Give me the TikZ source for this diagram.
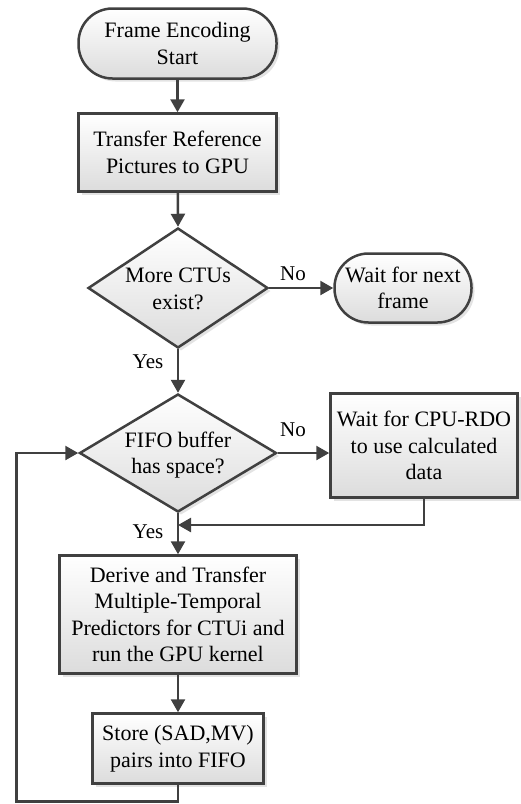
\documentclass[tikz,border=0pt]{standalone}
\usepackage{fontspec}
\setmainfont{Liberation Serif}
\usetikzlibrary{arrows.meta,shapes.geometric,shadows}
\definecolor{lc}{HTML}{404040}
\definecolor{boxg}{HTML}{DCDCDC}
\begin{document}
\begin{tikzpicture}[x=1pt,y=-1pt,
  txt/.style={font=\fontsize{22}{26.5}\selectfont, align=center, inner sep=0pt, text=black},
  boxbase/.style={draw=lc, line width=2.5pt, top color=white, bottom color=boxg,
     drop shadow={opacity=0.22, shadow xshift=3pt, shadow yshift=-3pt},
     txt},
  proc/.style={boxbase, rectangle},
  term/.style={boxbase, rectangle, rounded corners=34pt},
  dec/.style={boxbase, diamond, shape aspect=1.5},
  line/.style={draw=lc, line width=2.5pt},
  arr/.style={line, -{Triangle[length=13pt,width=14pt]}},
  lab/.style={font=\fontsize{21}{25}\selectfont, inner sep=0pt}]
\useasboundingbox (0,0) rectangle (521,804);

\node[term, minimum width=198pt, minimum height=70pt] (start) at (177.5,43.5) {Frame Encoding\\Start};
\node[proc, minimum width=198pt, minimum height=78pt] (xfer) at (177.5,152.5) {Transfer Reference\\Pictures to GPU};
\node[dec, minimum width=180pt, minimum height=120pt] (d1) at (178,288) {};
\node[txt] (d1t) at (178,289) {More CTUs\\exist?};
\node[term, minimum width=137pt, minimum height=69pt] (wait) at (403,288) {Wait for next\\frame};
\node[dec, minimum width=197pt, minimum height=118pt] (d2) at (178,453) {};
\node[txt] (d2t) at (178,455) {FIFO buffer\\has space?};
\node[proc, minimum width=187pt, minimum height=104pt] (cpu) at (424,445.5) {Wait for CPU-RDO\\to use calculated\\data};
\node[proc, minimum width=237pt, minimum height=118pt] (derive) at (178,614.5) {Derive and Transfer\\Multiple-Temporal\\Predictors for CTUi and\\run the GPU kernel};
\node[proc, minimum width=171pt, minimum height=70pt] (store) at (178,748.5) {Store (SAD,MV)\\pairs into FIFO};

\coordinate (join) at (178,525);
\coordinate (lb) at (16.5,801.5);

\draw[arr] (start) -- (xfer);
\draw[arr] (xfer) -- (d1.north);
\draw[arr] (d1.east) -- (wait.west);
\draw[arr] (d1.south) -- (d2.north);
\draw[arr] (d2.east) -- (d2.east -| cpu.west);
\draw[arr] (cpu.south) |- (join);
\draw[arr] (d2.south) -- (derive.north);
\draw[arr] (derive) -- (store);
\draw[arr] (store.south) |- (lb) |- (d2.west);

\node[lab] (no1) at (293,274) {No};
\node[lab] (yes1) at (148,362) {Yes};
\node[lab] (no2) at (293,430) {No};
\node[lab] (yes2) at (148,532) {Yes};
\end{tikzpicture}
\end{document}
